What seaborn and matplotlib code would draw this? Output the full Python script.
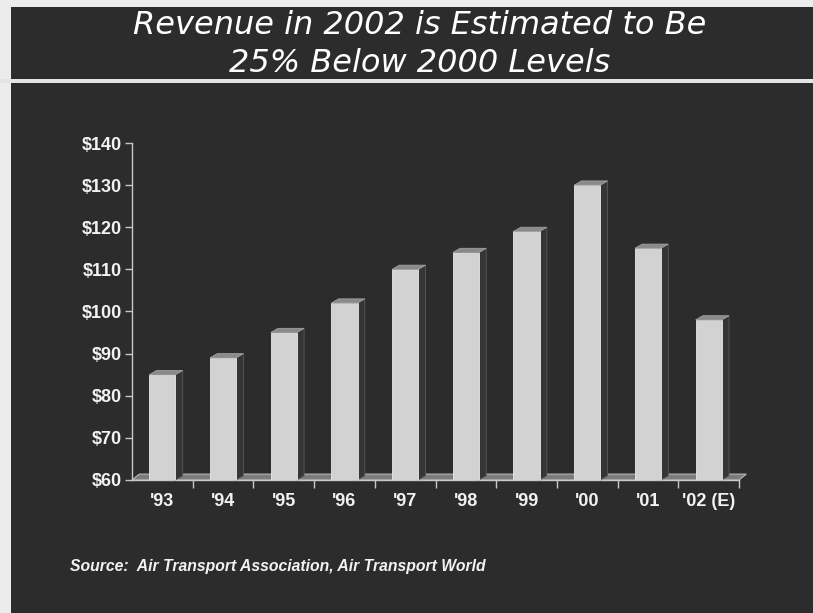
import matplotlib
matplotlib.use("Agg")
import matplotlib.pyplot as plt
import seaborn as sns
import pandas as pd
from matplotlib.patches import Polygon, Rectangle

# ---- data ----
years = ["'93", "'94", "'95", "'96", "'97", "'98", "'99", "'00", "'01", "'02 (E)"]
revenue = [85, 89, 95, 102, 110, 114, 119, 130, 115, 98]
yticks = [60, 70, 80, 90, 100, 110, 120, 130, 140]
ytick_labels = ["$60", "$70", "$80", "$90", "$100", "$110", "$120", "$130", "$140"]
title_lines = ["Revenue in 2002 is Estimated to Be", "25% Below 2000 Levels"]
source_text = "Source:  Air Transport Association, Air Transport World"

# ---- style ----
BG = "#2c2c2c"
MARGIN = "#ececec"
FRONT = "#d2d2d2"
SIDE = "#353535"
TOP = "#8a8a8a"
FLOOR = "#7c7c7c"
AXIS = "#c8c8c8"
TXT = "#f2f2f2"

sns.set_style("ticks")
plt.rcParams["font.family"] = ["Liberation Sans", "DejaVu Sans"]

W, H = 813, 613
fig = plt.figure(figsize=(W / 100, H / 100), dpi=100, facecolor=BG)

# scan margins and title rule
fig.patches.append(Rectangle((0, 0), 11 / W, 1, transform=fig.transFigure,
                             facecolor=MARGIN, edgecolor="none", zorder=0))
fig.patches.append(Rectangle((0, 1 - 7 / H), 1, 7 / H, transform=fig.transFigure,
                             facecolor=MARGIN, edgecolor="none", zorder=0))
fig.patches.append(Rectangle((0, 1 - 82.5 / H), 1, 3 / H, transform=fig.transFigure,
                             facecolor="#e4e4e4", edgecolor="none", zorder=0))

ax = fig.add_axes([132 / W, 1 - 480 / H, 607 / W, 337 / H])
ax.set_facecolor("none")

df = pd.DataFrame({"year": years, "revenue": revenue})
sns.barplot(data=df, x="year", y="revenue", ax=ax, color=FRONT, saturation=1,
            width=0.43, edgecolor="#e8e8e8", linewidth=0.6, zorder=4)

ax.set_ylim(60, 140)
ax.set_xlim(-0.5, len(years) - 0.5)

# 3D decorations derived from bar geometry
dx, dy = 0.12, 1.0
base = 60
n = len(years)
floor = Polygon([(-0.5, base), (n - 0.5, base), (n - 0.5 + dx, base + 1.4),
                 (-0.5 + dx, base + 1.4)], closed=True, facecolor=FLOOR,
                edgecolor="#b8b8b8", linewidth=0.8, zorder=2, clip_on=False)
ax.add_patch(floor)
for p in list(ax.patches):
    if p is floor:
        continue
    x0, w = p.get_x(), p.get_width()
    top = p.get_y() + p.get_height()
    side = Polygon([(x0 + w, base), (x0 + w + dx, base + dy), (x0 + w + dx, top + dy),
                    (x0 + w, top)], closed=True, facecolor=SIDE, edgecolor="#5a5a5a",
                   linewidth=0.6, zorder=3, clip_on=False)
    cap = Polygon([(x0, top), (x0 + dx, top + dy), (x0 + w + dx, top + dy), (x0 + w, top)],
                  closed=True, facecolor=TOP, edgecolor="#a0a0a0", linewidth=0.6,
                  zorder=5, clip_on=False)
    ax.add_patch(side)
    ax.add_patch(cap)

# axes styling
for s in ["top", "right"]:
    ax.spines[s].set_visible(False)
ax.spines["left"].set_color(AXIS)
ax.spines["bottom"].set_color(AXIS)
ax.spines["left"].set_linewidth(1.0)
ax.spines["bottom"].set_linewidth(1.0)

ax.set_yticks(yticks)
ax.set_yticklabels(ytick_labels)
ax.tick_params(axis="y", colors=AXIS, length=5, width=1, pad=2, direction="out")
for lab in ax.get_yticklabels():
    lab.set_color(TXT)
    lab.set_fontweight("bold")
    lab.set_fontsize(13)

ax.set_xticks(range(n))
ax.set_xticklabels(years)
ax.set_xticks([i + 0.5 for i in range(n)], minor=True)
ax.tick_params(axis="x", which="major", length=0, pad=9.5)
ax.tick_params(axis="x", which="minor", length=6, width=1, colors=AXIS, direction="out")
for lab in ax.get_xticklabels():
    lab.set_color(TXT)
    lab.set_fontweight("bold")
    lab.set_fontsize(13)

ax.set_xlabel("")
ax.set_ylabel("")

# title
title_font = ["DejaVu Sans"]
fig.text(420 / W, 1 - 26 / H, title_lines[0], ha="center", va="center", color="white",
         fontsize=23, style="italic", family=title_font)
fig.text(420 / W, 1 - 63 / H, title_lines[1], ha="center", va="center", color="white",
         fontsize=23, style="italic", family=title_font)

# source
fig.text(70 / W, 1 - 566 / H, source_text, ha="left", va="center", color=TXT,
         fontsize=11.3, style="italic", fontweight="bold",
         family=["Liberation Sans", "DejaVu Sans"])

fig.savefig("out.png", dpi=100, facecolor=fig.get_facecolor())
